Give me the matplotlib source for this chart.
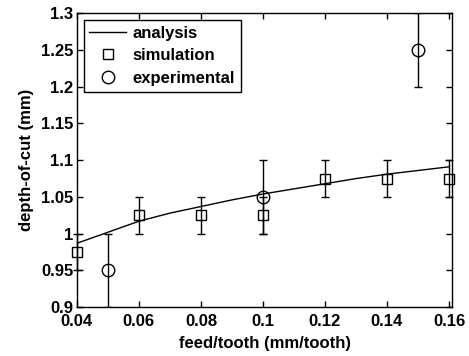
import matplotlib
matplotlib.use('Agg')
import matplotlib.pyplot as plt
import numpy as np

# analysis curve
feed_ana = [0.04, 0.05, 0.06, 0.07, 0.08, 0.09, 0.10, 0.11, 0.12, 0.13, 0.14, 0.15, 0.16]
doc_ana = [0.987, 1.002, 1.017, 1.028, 1.037, 1.046, 1.054, 1.061, 1.068, 1.075, 1.081, 1.086, 1.091]

# simulation
feed_sim = [0.04, 0.06, 0.08, 0.10, 0.12, 0.14, 0.16]
doc_sim = [0.975, 1.025, 1.025, 1.025, 1.075, 1.075, 1.075]
err_sim = [0.025, 0.025, 0.025, 0.025, 0.025, 0.025, 0.025]

# experimental
feed_exp = [0.05, 0.10, 0.15]
doc_exp = [0.95, 1.05, 1.25]
err_exp = [0.05, 0.05, 0.05]

xticks = [0.04, 0.06, 0.08, 0.1, 0.12, 0.14, 0.16]
xticklabels = ['0.04', '0.06', '0.08', '0.1', '0.12', '0.14', '0.16']
yticks = [0.9, 0.95, 1.0, 1.05, 1.1, 1.15, 1.2, 1.25, 1.3]
yticklabels = ['0.9', '0.95', '1', '1.05', '1.1', '1.15', '1.2', '1.25', '1.3']

plt.rcParams['font.family'] = ['Liberation Sans', 'DejaVu Sans']
plt.rcParams['font.weight'] = 'bold'
plt.rcParams['font.size'] = 12

fig = plt.figure(figsize=(4.69, 3.56), dpi=100)
ax = fig.add_axes([0.164, 0.137, 0.800, 0.826])

ax.plot(feed_ana, doc_ana, 'k-', lw=1.0, label='analysis')
ax.errorbar(feed_sim, doc_sim, yerr=err_sim, fmt='s', color='k', mfc='none',
            ms=7.5, mew=1.0, elinewidth=1.0, capsize=3, capthick=1.0,
            label='simulation', clip_on=False)
ax.errorbar(feed_exp, doc_exp, yerr=err_exp, fmt='o', color='k', mfc='none',
            ms=9, mew=1.0, elinewidth=1.0, capsize=3, capthick=1.0,
            label='experimental')

ax.set_xlim(0.04, 0.161)
ax.set_ylim(0.9, 1.3)
ax.set_xticks(xticks)
ax.set_xticklabels(xticklabels)
ax.set_yticks(yticks)
ax.set_yticklabels(yticklabels)
ax.tick_params(direction='in', top=True, right=True, length=4, width=1.0, pad=2.5)
ax.tick_params(axis='x', pad=5)
for s in ax.spines.values():
    s.set_linewidth(1.0)

ax.set_xlabel('feed/tooth (mm/tooth)', fontweight='bold', labelpad=5)
ax.set_ylabel('depth-of-cut (mm)', fontweight='bold', labelpad=5)

handles, labels = ax.get_legend_handles_labels()
handles = [h[0] if isinstance(h, tuple) else h for h in handles]
leg = ax.legend(handles, labels, loc='upper left', bbox_to_anchor=(0.0, 1.0),
                fancybox=False, framealpha=1, edgecolor='k', handlelength=2.2,
                handletextpad=0.4, borderpad=0.35, labelspacing=0.45,
                borderaxespad=0.4)
leg.get_frame().set_linewidth(1.0)

fig.savefig('out.png', dpi=100)
